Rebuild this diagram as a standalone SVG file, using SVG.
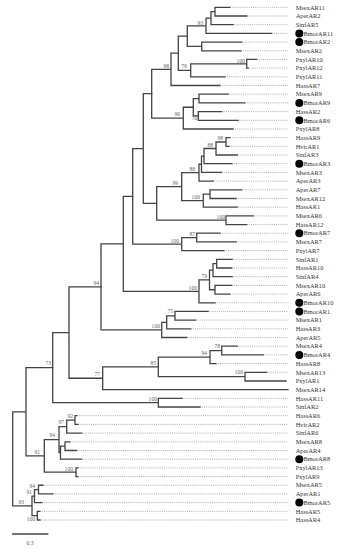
<svg xmlns="http://www.w3.org/2000/svg" width="338" height="550" viewBox="0 0 338 550">
<style>
.br{fill:none;stroke:#444;stroke-width:1.3;stroke-linecap:square}
.dt{fill:none;stroke:#8a8a8a;stroke-width:0.7;stroke-dasharray:1 1.1}
.lf{font-family:"Liberation Serif",serif;font-size:6.4px;fill:#333}
.bs{font-family:"Liberation Serif",serif;font-size:5.6px;fill:#666;text-anchor:end}
.dot{fill:#000}
</style>
<rect width="338" height="550" fill="#fff"/>
<g id="connectors">
<path class="br" d="M230 7.3H215V16H246.7 M215 11.65H211V24.7H233.3 M211 18.2H206V33.4H271.7 M241.7 42.1H201.7V50.8H241 M206 25.8H187.3V46.4H201.7 M256.7 59.4H246.7V68.1H248.3 M246.7 63.8H190.7V76.8H225 M187.3 36.1H178.3V70.3H190.7 M178.3 53.2H171V85.5H220 M228.3 94.2H199V102.9H245 M221.7 111.6H198.3V120.3H238.3 M199 98.55H193.3V115.95H198.3 M193.3 107.25H183.3V129H233 M171 69.35H151.7V118.1H183.3"/>
<path class="br" d="M230 137.65H226V146.3H229 M226 142H216V155H237.3 M216 148.5H204V163.7H232 M204 156.1H201.5V172.4H221.7 M201.5 164.25H199V181.1H213.3 M241.7 189.8H210V198.5H236 M210 194.15H203.3V207.2H237.3 M199 172.7H181.7V200.7H203.3 M253.3 215.9H226V224.6H246.7 M181.7 186.7H156.7V220.2H226 M151.7 93.7H143.3V203.45H156.7 M220 233.2H196.7V241.9H236 M196.7 237.55H181.7V250.6H224 M143.3 148.6H132.7V244.1H181.7"/>
<path class="br" d="M232.3 259.3H216.7V268H231.7 M216.7 263.65H213V276.7H232.3 M231.7 285.4H215V294.1H230 M213 270.2H209.5V289.75H215 M209.5 279.95H199V302.8H215 M132.7 196.35H123.3V291.4H199 M208.3 311.45H175V320.1H195.7 M175 315.8H166.7V328.8H190.7 M166.7 322.3H161.7V337.5H186.7 M123.3 243.9H101V329.9H161.7"/>
<path class="br" d="M237.3 346.2H221.7V354.9H263.3 M221.7 350.55H210V363.6H216 M266.7 372.3H245V381H286 M210 357.1H158.3V376.6H245 M158.3 366.85H102.7V389.7H288 M101 286.9H69V378.25H102.7 M182.3 398.35H158.3V407H200 M69 332.6H52.7V402.7H158.3"/>
<path class="br" d="M77 415.7H75V424.4H78.3 M75 420.05H66.7V433.1H81.7 M70 441.8H65V450.5H76.7 M65 446.15H60.5V459.2H81.7 M66.7 426.6H59V452.7H60.5 M78 467.9H76V476.6H78 M59 439.65H44.3V472.2H76 M52.7 367.65H26V455.9H44.3 M43 485.25H38.5V493.9H53 M38.5 489.6H34.5V502.6H42 M40 511.3H37.3V520H40 M34.5 496.1H32V515.7H37.3 M26 411.8H12.7V505.9H32"/>
<path class="dt" d="M230 7.3H288 M246.7 16H288 M233.3 24.7H288 M271.7 33.4H288 M241.7 42.1H288 M241 50.8H288 M256.7 59.4H288 M248.3 68.1H288 M225 76.8H288 M220 85.5H288 M228.3 94.2H288 M245 102.9H288 M221.7 111.6H288 M238.3 120.3H288 M233 129H288 M230 137.65H288 M229 146.3H288 M237.3 155H288 M232 163.7H288 M221.7 172.4H288 M213.3 181.1H288 M241.7 189.8H288 M236 198.5H288 M237.3 207.2H288 M253.3 215.9H288 M246.7 224.6H288 M220 233.2H288 M236 241.9H288 M224 250.6H288 M232.3 259.3H288 M231.7 268H288 M232.3 276.7H288 M231.7 285.4H288 M230 294.1H288 M215 302.8H288 M208.3 311.45H288 M195.7 320.1H288 M190.7 328.8H288 M186.7 337.5H288 M237.3 346.2H288 M263.3 354.9H288 M216 363.6H288 M266.7 372.3H288 M182.3 398.35H288 M200 407H288 M77 415.7H288 M78.3 424.4H288 M81.7 433.1H288 M70 441.8H288 M76.7 450.5H288 M81.7 459.2H288 M78 467.9H288 M78 476.6H288 M43 485.25H288 M53 493.9H288 M42 502.6H288 M40 511.3H288 M40 520H288"/>
</g>
<g id="support">
<text class="bs" x="203" y="24.5">93</text>
<text class="bs" x="169" y="67.5">98</text>
<text class="bs" x="187" y="67.5">76</text>
<text class="bs" x="245" y="62.8">100</text>
<text class="bs" x="197" y="119.8">70</text>
<text class="bs" x="180" y="116.3">96</text>
<text class="bs" x="223" y="139.5">98</text>
<text class="bs" x="213" y="146.8">88</text>
<text class="bs" x="195" y="170.8">88</text>
<text class="bs" x="178" y="184.5">99</text>
<text class="bs" x="200" y="198.8">100</text>
<text class="bs" x="225" y="218.5">100</text>
<text class="bs" x="195" y="235.6">87</text>
<text class="bs" x="179" y="242.6">100</text>
<text class="bs" x="207" y="278.3">79</text>
<text class="bs" x="197" y="289.8">100</text>
<text class="bs" x="99" y="284.5">94</text>
<text class="bs" x="173" y="312.5">75</text>
<text class="bs" x="160" y="328.3">100</text>
<text class="bs" x="220" y="348">78</text>
<text class="bs" x="207" y="355.3">94</text>
<text class="bs" x="156" y="364.8">85</text>
<text class="bs" x="243" y="374">100</text>
<text class="bs" x="100" y="376">77</text>
<text class="bs" x="51" y="365.3">73</text>
<text class="bs" x="157" y="400.5">100</text>
<text class="bs" x="73" y="417.5">92</text>
<text class="bs" x="64" y="424">97</text>
<text class="bs" x="55" y="437.3">94</text>
<text class="bs" x="40" y="454">91</text>
<text class="bs" x="73" y="470.5">100</text>
<text class="bs" x="35" y="487.5">94</text>
<text class="bs" x="32" y="494">91</text>
<text class="bs" x="24" y="503.5">93</text>
<text class="bs" x="35" y="521">100</text>
</g>
<g id="leaves">
<g id="MsexAR11"><text class="lf" x="295.7" y="9.5">MsexAR11</text></g>
<g id="AperAR2"><text class="lf" x="295.7" y="18.2">AperAR2</text></g>
<g id="SinfAR5"><text class="lf" x="295.7" y="26.9">SinfAR5</text></g>
<g id="BmorAR11"><circle class="dot" cx="299.3" cy="33.4" r="4"/><text class="lf" x="303.5" y="35.6">BmorAR11</text></g>
<g id="BmorAR2"><circle class="dot" cx="299.3" cy="42.1" r="4"/><text class="lf" x="303.5" y="44.3">BmorAR2</text></g>
<g id="MsexAR2"><text class="lf" x="295.7" y="53">MsexAR2</text></g>
<g id="PxylAR10"><text class="lf" x="295.7" y="61.6">PxylAR10</text></g>
<g id="PxylAR12"><text class="lf" x="295.7" y="70.3">PxylAR12</text></g>
<g id="PxylAR11"><text class="lf" x="295.7" y="79">PxylAR11</text></g>
<g id="HassAR7"><text class="lf" x="295.7" y="87.7">HassAR7</text></g>
<g id="MsexAR9"><text class="lf" x="295.7" y="96.4">MsexAR9</text></g>
<g id="BmorAR9"><circle class="dot" cx="299.3" cy="102.9" r="4"/><text class="lf" x="303.5" y="105.1">BmorAR9</text></g>
<g id="HassAR2"><text class="lf" x="295.7" y="113.8">HassAR2</text></g>
<g id="BmorAR6"><circle class="dot" cx="299.3" cy="120.3" r="4"/><text class="lf" x="303.5" y="122.5">BmorAR6</text></g>
<g id="PxylAR8"><text class="lf" x="295.7" y="131.2">PxylAR8</text></g>
<g id="HassAR9"><text class="lf" x="295.7" y="139.9">HassAR9</text></g>
<g id="HvirAR1"><text class="lf" x="295.7" y="148.5">HvirAR1</text></g>
<g id="SinfAR3"><text class="lf" x="295.7" y="157.2">SinfAR3</text></g>
<g id="BmorAR3"><circle class="dot" cx="299.3" cy="163.7" r="4"/><text class="lf" x="303.5" y="165.9">BmorAR3</text></g>
<g id="MsexAR3"><text class="lf" x="295.7" y="174.6">MsexAR3</text></g>
<g id="AperAR3"><text class="lf" x="295.7" y="183.3">AperAR3</text></g>
<g id="AperAR7"><text class="lf" x="295.7" y="192">AperAR7</text></g>
<g id="MsexAR12"><text class="lf" x="295.7" y="200.7">MsexAR12</text></g>
<g id="HassAR1"><text class="lf" x="295.7" y="209.4">HassAR1</text></g>
<g id="MsexAR6"><text class="lf" x="295.7" y="218.1">MsexAR6</text></g>
<g id="HassAR12"><text class="lf" x="295.7" y="226.8">HassAR12</text></g>
<g id="BmorAR7"><circle class="dot" cx="299.3" cy="233.2" r="4"/><text class="lf" x="303.5" y="235.4">BmorAR7</text></g>
<g id="MsexAR7"><text class="lf" x="295.7" y="244.1">MsexAR7</text></g>
<g id="PxylAR7"><text class="lf" x="295.7" y="252.8">PxylAR7</text></g>
<g id="SinfAR1"><text class="lf" x="295.7" y="261.5">SinfAR1</text></g>
<g id="HassAR10"><text class="lf" x="295.7" y="270.2">HassAR10</text></g>
<g id="SinfAR4"><text class="lf" x="295.7" y="278.9">SinfAR4</text></g>
<g id="MsexAR10"><text class="lf" x="295.7" y="287.6">MsexAR10</text></g>
<g id="AperAR6"><text class="lf" x="295.7" y="296.3">AperAR6</text></g>
<g id="BmorAR10"><circle class="dot" cx="299.3" cy="302.8" r="4"/><text class="lf" x="303.5" y="305">BmorAR10</text></g>
<g id="BmorAR1"><circle class="dot" cx="299.3" cy="311.45" r="4"/><text class="lf" x="303.5" y="313.6">BmorAR1</text></g>
<g id="MsexAR1"><text class="lf" x="295.7" y="322.3">MsexAR1</text></g>
<g id="HassAR3"><text class="lf" x="295.7" y="331">HassAR3</text></g>
<g id="AperAR5"><text class="lf" x="295.7" y="339.7">AperAR5</text></g>
<g id="MsexAR4"><text class="lf" x="295.7" y="348.4">MsexAR4</text></g>
<g id="BmorAR4"><circle class="dot" cx="299.3" cy="354.9" r="4"/><text class="lf" x="303.5" y="357.1">BmorAR4</text></g>
<g id="HassAR8"><text class="lf" x="295.7" y="365.8">HassAR8</text></g>
<g id="MsexAR13"><text class="lf" x="295.7" y="374.5">MsexAR13</text></g>
<g id="PxylAR1"><text class="lf" x="295.7" y="383.2">PxylAR1</text></g>
<g id="MsexAR14"><text class="lf" x="295.7" y="391.9">MsexAR14</text></g>
<g id="HassAR11"><text class="lf" x="295.7" y="400.5">HassAR11</text></g>
<g id="SinfAR2"><text class="lf" x="295.7" y="409.2">SinfAR2</text></g>
<g id="HassAR6"><text class="lf" x="295.7" y="417.9">HassAR6</text></g>
<g id="HvirAR2"><text class="lf" x="295.7" y="426.6">HvirAR2</text></g>
<g id="SinfAR6"><text class="lf" x="295.7" y="435.3">SinfAR6</text></g>
<g id="MsexAR8"><text class="lf" x="295.7" y="444">MsexAR8</text></g>
<g id="AperAR4"><text class="lf" x="295.7" y="452.7">AperAR4</text></g>
<g id="BmorAR8"><circle class="dot" cx="299.3" cy="459.2" r="4"/><text class="lf" x="303.5" y="461.4">BmorAR8</text></g>
<g id="PxylAR13"><text class="lf" x="295.7" y="470.1">PxylAR13</text></g>
<g id="PxylAR9"><text class="lf" x="295.7" y="478.8">PxylAR9</text></g>
<g id="MsexAR5"><text class="lf" x="295.7" y="487.4">MsexAR5</text></g>
<g id="AperAR1"><text class="lf" x="295.7" y="496.1">AperAR1</text></g>
<g id="BmorAR5"><circle class="dot" cx="299.3" cy="502.6" r="4"/><text class="lf" x="303.5" y="504.8">BmorAR5</text></g>
<g id="HassAR5"><text class="lf" x="295.7" y="513.5">HassAR5</text></g>
<g id="HassAR4"><text class="lf" x="295.7" y="522.2">HassAR4</text></g>
</g>
<g id="scale">
<path class="br" d="M12.7 534H47.7"/>
<text class="bs" x="30" y="544.5" style="text-anchor:middle">0.3</text>
</g>
</svg>
